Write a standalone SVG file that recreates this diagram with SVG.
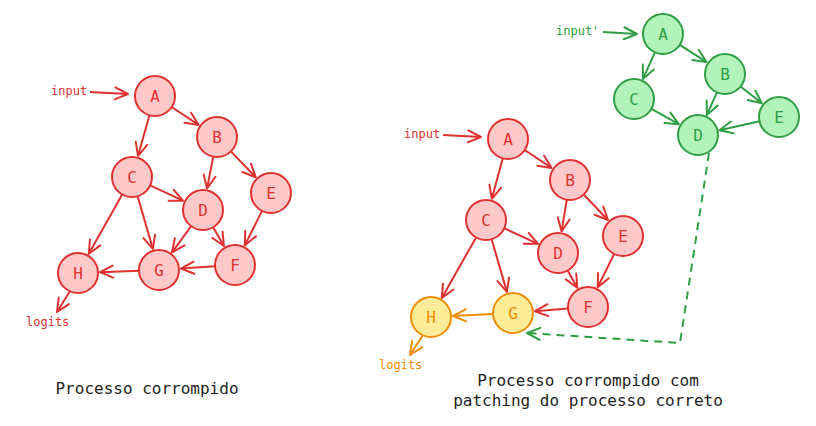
<svg xmlns="http://www.w3.org/2000/svg" width="816" height="426" viewBox="0 0 816 426">
<style>
text{font-family:"DejaVu Sans Mono","Liberation Mono",monospace;}
.r circle{fill:#ffc9c9;stroke:#e03131;stroke-width:2}
.r text{fill:#e03131}
.g circle{fill:#b2f2bb;stroke:#2f9e44;stroke-width:2}
.g text{fill:#2f9e44}
.o circle{fill:#ffec99;stroke:#f08c00;stroke-width:2}
.o text{fill:#f08c00}
.n text{font-size:16px;text-anchor:middle;dominant-baseline:central}
.er{stroke:#e03131;stroke-width:2;fill:none;marker-end:url(#mr)}
.eg{stroke:#2f9e44;stroke-width:2;fill:none;marker-end:url(#mg)}
.eo{stroke:#f08c00;stroke-width:2;fill:none;marker-end:url(#mo)}
.lbl{font-size:12px}
.title{font-size:16px;fill:#1e1e1e}
</style>
<defs>
<marker id="mr" viewBox="-16 -8 18 16" refX="0" refY="0" markerWidth="18" markerHeight="16" orient="auto" markerUnits="userSpaceOnUse"><path d="M-13,-6 L0,0 L-13,6" fill="none" stroke="#e03131" stroke-width="2" stroke-linecap="round" stroke-linejoin="round"/></marker>
<marker id="mg" viewBox="-16 -8 18 16" refX="0" refY="0" markerWidth="18" markerHeight="16" orient="auto" markerUnits="userSpaceOnUse"><path d="M-13,-6 L0,0 L-13,6" fill="none" stroke="#2f9e44" stroke-width="2" stroke-linecap="round" stroke-linejoin="round"/></marker>
<marker id="mo" viewBox="-16 -8 18 16" refX="0" refY="0" markerWidth="18" markerHeight="16" orient="auto" markerUnits="userSpaceOnUse"><path d="M-13,-6 L0,0 L-13,6" fill="none" stroke="#f08c00" stroke-width="2" stroke-linecap="round" stroke-linejoin="round"/></marker>
</defs>
<g id="connectors">
<path class="er" d="M90,92 L128,94"/>
<path class="er" d="M171.7,107 L198.6,124.9"/>
<path class="er" d="M149.5,115.2 L138,155.8"/>
<path class="er" d="M213.2,156.6 L207.1,188.4"/>
<path class="er" d="M230.9,151.4 L255.7,177.2"/>
<path class="er" d="M150.1,185.4 L183,200.7"/>
<path class="er" d="M137.6,196.2 L152.9,248.9"/>
<path class="er" d="M122.2,194.4 L88.8,253.8"/>
<path class="er" d="M191.2,226.1 L172,252.3"/>
<path class="er" d="M213.1,227.3 L223.9,246"/>
<path class="er" d="M262,210.9 L244.8,245.3"/>
<path class="er" d="M215,266.3 L181,268.6"/>
<path class="er" d="M139,270.7 L100,272.2"/>
<path class="er" d="M70,291 L57,312"/>
<path class="er" d="M443,135 L481,137"/>
<path class="er" d="M524.7,150 L551.6,167.9"/>
<path class="er" d="M502.8,158.3 L491.8,198.8"/>
<path class="er" d="M566.8,199.7 L561.6,231.3"/>
<path class="er" d="M583.7,194.5 L607.9,220"/>
<path class="er" d="M504.2,228.3 L538,243.8"/>
<path class="er" d="M491.6,239.2 L506.9,291.9"/>
<path class="er" d="M476.1,237.4 L441.8,297.9"/>
<path class="er" d="M567.7,270.5 L577.3,287.8"/>
<path class="er" d="M614.2,253.9 L597.7,287.3"/>
<path class="er" d="M568,308.6 L535,311.2"/>
<path class="eo" d="M493,314 L453,316"/>
<path class="eo" d="M423,335 L410,355"/>
<path class="eg" d="M603,32 L637,34"/>
<path class="eg" d="M679.8,44.8 L706.5,62.1"/>
<path class="eg" d="M654.9,52.3 L643,78.9"/>
<path class="eg" d="M716.9,92.3 L706.9,114.9"/>
<path class="eg" d="M740.6,86.5 L761.8,103.3"/>
<path class="eg" d="M651.4,108.8 L678.8,124.2"/>
<path class="eg" d="M759.5,121.3 L719.5,130.2"/>
<path class="eg" d="M709,153 L680,343 L527,333" stroke-dasharray="8 6"/>
</g>
<g id="left-input"><text class="lbl" x="51" y="95" fill="#e03131">input</text></g>
<g id="left-logits"><text class="lbl" x="26" y="326" fill="#e03131">logits</text></g>
<g id="L-A" class="n r"><circle cx="155" cy="96" r="20"/><text x="155" y="96">A</text></g>
<g id="L-B" class="n r"><circle cx="217" cy="137" r="20"/><text x="217" y="137">B</text></g>
<g id="L-C" class="n r"><circle cx="132" cy="177" r="20"/><text x="132" y="177">C</text></g>
<g id="L-D" class="n r"><circle cx="203" cy="210" r="20"/><text x="203" y="210">D</text></g>
<g id="L-E" class="n r"><circle cx="271" cy="193" r="20"/><text x="271" y="193">E</text></g>
<g id="L-F" class="n r"><circle cx="235" cy="265" r="20"/><text x="235" y="265">F</text></g>
<g id="L-G" class="n r"><circle cx="159" cy="270" r="20"/><text x="159" y="270">G</text></g>
<g id="L-H" class="n r"><circle cx="78" cy="273" r="20"/><text x="78" y="273">H</text></g>
<g id="right-input"><text class="lbl" x="404" y="138" fill="#e03131">input</text></g>
<g id="right-logits"><text class="lbl" x="379" y="369" fill="#f08c00">logits</text></g>
<g id="R-A" class="n r"><circle cx="508" cy="139" r="20"/><text x="508" y="139">A</text></g>
<g id="R-B" class="n r"><circle cx="570" cy="180" r="20"/><text x="570" y="180">B</text></g>
<g id="R-C" class="n r"><circle cx="486" cy="220" r="20"/><text x="486" y="220">C</text></g>
<g id="R-D" class="n r"><circle cx="558" cy="253" r="20"/><text x="558" y="253">D</text></g>
<g id="R-E" class="n r"><circle cx="623" cy="236" r="20"/><text x="623" y="236">E</text></g>
<g id="R-F" class="n r"><circle cx="588" cy="307" r="20"/><text x="588" y="307">F</text></g>
<g id="R-G" class="n o"><circle cx="513" cy="313" r="20"/><text x="513" y="313">G</text></g>
<g id="R-H" class="n o"><circle cx="431" cy="317" r="20"/><text x="431" y="317">H</text></g>
<g id="green-input"><text class="lbl" x="556" y="35" fill="#2f9e44">input'</text></g>
<g id="G-A" class="n g"><circle cx="663" cy="34" r="20"/><text x="663" y="34">A</text></g>
<g id="G-B" class="n g"><circle cx="725" cy="74" r="20"/><text x="725" y="74">B</text></g>
<g id="G-C" class="n g"><circle cx="634" cy="99" r="20"/><text x="634" y="99">C</text></g>
<g id="G-D" class="n g"><circle cx="698" cy="135" r="20"/><text x="698" y="135">D</text></g>
<g id="G-E" class="n g"><circle cx="779" cy="117" r="20"/><text x="779" y="117">E</text></g>
<g id="titles">
<text class="title" x="147" y="394" text-anchor="middle">Processo corrompido</text>
<text class="title" x="588" y="386" text-anchor="middle">Processo corrompido com</text>
<text class="title" x="588" y="406" text-anchor="middle">patching do processo correto</text>
</g>
</svg>
